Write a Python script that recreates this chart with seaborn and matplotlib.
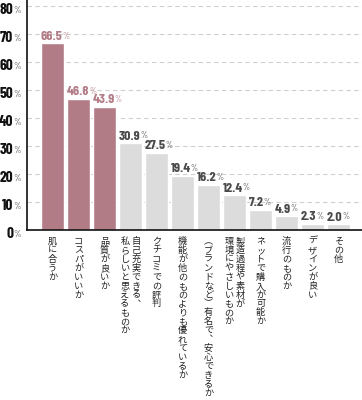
import matplotlib
matplotlib.use("Agg")
import matplotlib.pyplot as plt
from matplotlib import font_manager
import seaborn as sns
import pandas as pd

# data
categories = [
    "肌に合うか",
    "コスパがいいか",
    "品質が良いか",
    "自己充実できる、\n私らしいと思えるものか",
    "クチコミでの評判",
    "機能が他のものよりも優れているか",
    "（ブランドなど）有名で、安心できるか",
    "製造過程や素材が\n環境にやさしいものか",
    "ネットで購入が可能か",
    "流行のものか",
    "デザインが良い",
    "その他",
]
values = [66.5, 46.8, 43.9, 30.9, 27.5, 19.4, 16.2, 12.4, 7.2, 4.9, 2.3, 2.0]
highlight = [True, True, True, False, False, False, False, False, False, False, False, False]
y_ticks = [0, 10, 20, 30, 40, 50, 60, 70, 80]

MAUVE = "#b27c87"
GREY = "#dcdcdc"
DARK = "#4a4a4a"

sns.set_style("white")
installed = {f.name for f in font_manager.fontManager.ttflist}
NUM_FONT = "Barlow Condensed" if "Barlow Condensed" in installed else "DejaVu Sans"
plt.rcParams["font.family"] = ["Noto Sans CJK JP", "DejaVu Sans"]

df = pd.DataFrame({"cat": categories, "value": values})
colors = [MAUVE if h else GREY for h in highlight]

fig = plt.figure(figsize=(3.62, 4.0), dpi=100)
ax = fig.add_axes([27 / 362, 170 / 400, 335 / 362, 230 / 400])

sns.barplot(data=df, x="cat", y="value", hue="cat", palette=colors,
            width=0.9, legend=False, saturation=1, ax=ax)

ax.set_xlim(-0.98, 11.9)
ax.set_ylim(0, 82)
ax.set_yticks(y_ticks)
ax.set_yticklabels([])
ax.set_xticks([])
ax.set_xlabel("")
ax.set_ylabel("")
ax.tick_params(length=0)
ax.grid(axis="y", color="#cfcfcf", linestyle=(0, (4, 3)), linewidth=0.8)
ax.set_axisbelow(True)
for side in ["top", "right"]:
    ax.spines[side].set_visible(False)
for side in ["left", "bottom"]:
    ax.spines[side].set_color("#111111")
    ax.spines[side].set_linewidth(1.2)
    ax.spines[side].set_zorder(5)

# y tick labels: bold number + small percent sign
for t in y_ticks:
    num = ax.annotate(str(t), xy=(0, t), xycoords=("axes fraction", "data"),
                      xytext=(-10, -3), textcoords="offset points",
                      ha="right", va="center", fontsize=11, fontweight="bold",
                      family=NUM_FONT, color="#111111")
    ax.annotate("%", xy=(1, 0.12), xycoords=num,
                ha="left", va="bottom",
                fontsize=7, family=NUM_FONT, color="#444444")

# value labels above bars
for i, (v, h) in enumerate(zip(values, highlight)):
    c = MAUVE if h else DARK
    num = ax.annotate(f"{v:.1f}", xy=(i - 0.46, v), xycoords="data",
                      xytext=(0, 1), textcoords="offset points",
                      ha="left", va="bottom", fontsize=10, fontweight="bold",
                      family=NUM_FONT, color=c)
    ax.annotate("%", xy=(1, 0.14), xycoords=num,
                ha="left", va="bottom",
                fontsize=6.5, family=NUM_FONT, color=c)

# vertical Japanese category labels under the axis
vert_forms = {"、": "︑", "（": "︵", "）": "︶"}
for i, cat in enumerate(categories):
    cols = cat.split("\n")
    n = len(cols)
    for j, col in enumerate(cols):
        s = "".join(vert_forms.get(ch, ch) for ch in col)
        dx = (n - 1) / 2 * 8.0 - j * 8.0
        ax.annotate("\n".join(s), xy=(i, 0), xycoords=("data", "axes fraction"),
                    xytext=(dx, -5), textcoords="offset points",
                    ha="center", va="top", fontsize=6.6, linespacing=0.99,
                    color="#222222", annotation_clip=False)

fig.savefig("out.png", dpi=100)
